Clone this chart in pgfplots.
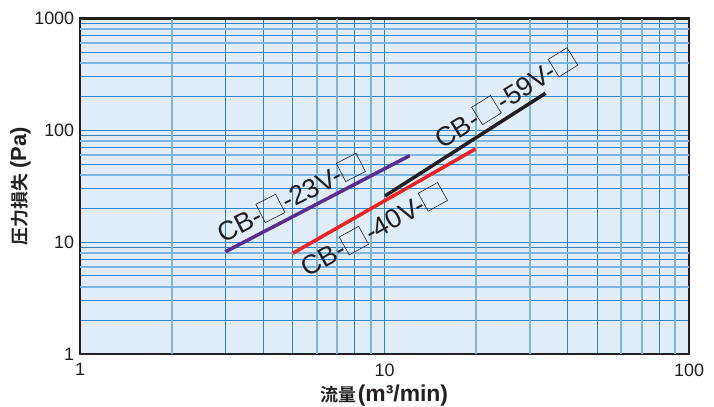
\documentclass[border=0pt]{standalone}
\usepackage{pgfplots}
\pgfplotsset{compat=1.18}
\usepackage{fontspec}
\setmainfont{Liberation Sans}
\newfontfamily\cjk{Noto Sans CJK JP}[BoldFont={Noto Sans CJK JP Bold}]

\definecolor{bg}{RGB}{225,238,250}
\definecolor{gdark}{RGB}{45,130,200}
\definecolor{glight}{RGB}{125,180,224}
\definecolor{cpurple}{RGB}{90,45,145}
\definecolor{cred}{RGB}{238,36,36}
\definecolor{ink}{RGB}{35,31,32}

% empty square placeholder, as in the catalogue
\newcommand{\bx}{\kern0.02em{\setlength\fboxsep{0pt}\setlength\fboxrule{0.6bp}\fbox{\rule{0pt}{0.74em}\hspace{0.8em}}}\kern0.1em}

\begin{document}
\begin{tikzpicture}[x=1bp,y=1bp]
\path[use as bounding box] (-80,-52) rectangle (634,354);
\begin{axis}[
  at={(0,0)}, anchor=south west,
  width=609bp, height=335.5bp, scale only axis,
  xmode=log, ymode=log,
  xmin=1, xmax=100, ymin=1, ymax=1000,
  axis background/.style={fill=bg},
  axis line style={ink, line width=2.2bp},
  xtick={1,10,100}, xticklabels={1,10,100},
  ytick={1,10,100,1000}, yticklabels={1,10,100,1000},
  minor xtick={3,4,5,8,40,50,80},
  minor ytick={2,3,5,7,9,20,30,50,70,90,200,300,500,700,900},
  extra x ticks={2,6,7,9,20,30,60,70,90}, extra x tick labels={\mbox{}},
  extra y ticks={4,6,8,40,60,80,400,600,800}, extra y tick labels={\mbox{}},
  extra tick style={grid=major, major grid style={glight, line width=2bp}},
  grid=both,
  major grid style={gdark, line width=1bp},
  minor grid style={gdark, line width=1bp},
  major tick length=0pt, minor tick length=0pt,
  tick label style={font=\fontsize{18}{20}\selectfont, text=ink},
  xticklabel style={yshift=-6bp},
  yticklabel style={xshift=-2.3bp},
  xlabel={{\cjk\bfseries 流量}\kern1bp{\fontsize{23}{24}\selectfont\bfseries(m³/min)}},
  ylabel={{\cjk\bfseries 圧力損失} {\fontsize{22}{24}\selectfont\bfseries(Pa)}},
  x label style={at={(axis description cs:0.5,-0.1252)}, anchor=center, font=\fontsize{18}{20}\selectfont, text=ink},
  y label style={at={(axis description cs:-0.0977,0.5)}, anchor=center, font=\fontsize{18}{20}\selectfont, text=ink},
  clip=false,
]
\addplot[cpurple, line width=3.5bp] coordinates {(3,8.2) (12.1,59.4)};
\addplot[cred, line width=3.5bp] coordinates {(5,7.96) (19.9,68.2)};
\addplot[ink, line width=3.5bp] coordinates {(10.04,25.9) (33.8,214.7)};

\node[rotate=27, font=\fontsize{27}{30}\selectfont, text=ink] at (axis cs:4.93,24.85) {CB-\bx-23V-\bx};
\node[rotate=29, font=\fontsize{27}{30}\selectfont, text=ink] at (axis cs:9.24,12.99) {CB-\bx-40V-\bx};
\node[rotate=32, font=\fontsize{27}{30}\selectfont, text=ink] at (axis cs:25.06,194.9) {CB-\bx-59V-\bx};
\end{axis}
\end{tikzpicture}
\end{document}
